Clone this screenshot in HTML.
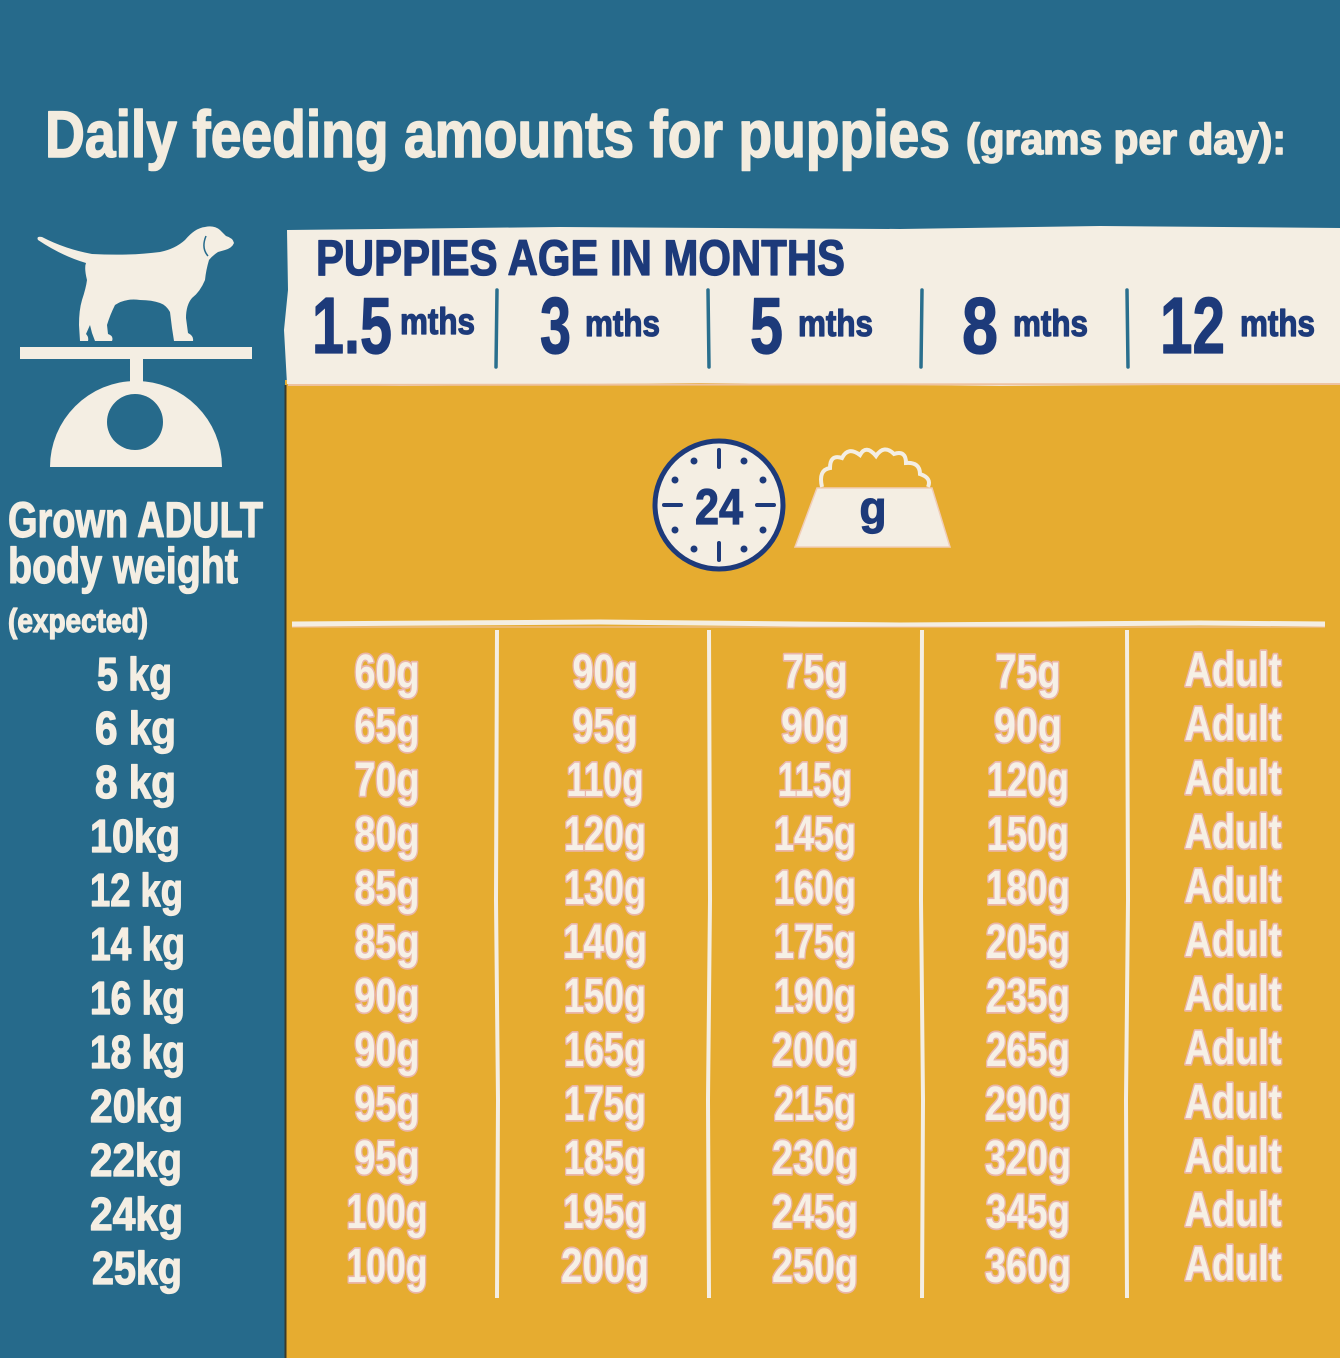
<!DOCTYPE html>
<html><head><meta charset="utf-8"><style>
html,body{margin:0;padding:0;background:#266a8b;}
svg{display:block;}
text{font-family:"Liberation Sans",sans-serif;font-weight:bold;}
</style></head><body>
<svg width="1340" height="1358" viewBox="0 0 1340 1358" xmlns="http://www.w3.org/2000/svg">
<rect x="0" y="0" width="1340" height="1358" fill="#266a8b"/>
<!-- title -->
<g fill="#f3ecdf" stroke="#f3ecdf" stroke-width="1.6" stroke-linejoin="round">
<text x="45" y="157" font-size="66" textLength="905" lengthAdjust="spacingAndGlyphs">Daily feeding amounts for puppies</text>
<text x="966" y="154" font-size="44" textLength="320" lengthAdjust="spacingAndGlyphs">(grams per day):</text>
</g>
<!-- yellow & cream panels -->
<rect x="285" y="380" width="1055" height="978" fill="#e6ac30"/>
<line x1="285.5" y1="385" x2="285.5" y2="1358" stroke="#3a3a2a" stroke-width="2"/>
<path d="M287 230 L560 227 L900 229 L1100 226 L1340 228 L1340 384 L1000 386 L700 383 L400 386 L287 384 L284 330 L288 290 Z" fill="#f4eee3"/>
<line x1="288" y1="385" x2="1340" y2="384" stroke="#eec2a0" stroke-width="2"/>
<!-- header text -->
<g fill="#1d3a7a" stroke="#1d3a7a" stroke-width="1.3" stroke-linejoin="round">
<text x="316" y="275" font-size="50" textLength="529" lengthAdjust="spacingAndGlyphs">PUPPIES AGE IN MONTHS</text>
<text x="312" y="353" font-size="80" textLength="80" lengthAdjust="spacingAndGlyphs">1.5</text>
<text x="400" y="334" font-size="37" textLength="75" lengthAdjust="spacingAndGlyphs">mths</text>
<text x="540" y="353" font-size="80" textLength="31" lengthAdjust="spacingAndGlyphs">3</text>
<text x="585" y="336" font-size="37" textLength="75" lengthAdjust="spacingAndGlyphs">mths</text>
<text x="750" y="353" font-size="80" textLength="33" lengthAdjust="spacingAndGlyphs">5</text>
<text x="798" y="336" font-size="37" textLength="75" lengthAdjust="spacingAndGlyphs">mths</text>
<text x="962" y="353" font-size="80" textLength="36" lengthAdjust="spacingAndGlyphs">8</text>
<text x="1013" y="336" font-size="37" textLength="75" lengthAdjust="spacingAndGlyphs">mths</text>
<text x="1160" y="353" font-size="80" textLength="65" lengthAdjust="spacingAndGlyphs">12</text>
<text x="1240" y="336" font-size="37" textLength="75" lengthAdjust="spacingAndGlyphs">mths</text>
</g>
<g stroke="#2a6f8e" stroke-width="3.5" stroke-linecap="round">
<line x1="497" y1="290" x2="496" y2="367"/>
<line x1="708" y1="290" x2="709" y2="367"/>
<line x1="922" y1="290" x2="921" y2="367"/>
<line x1="1127" y1="290" x2="1128" y2="367"/>
</g>
<!-- dog -->
<path fill="#f4eee3" d="M38 240 Q36 236 42 237 Q65 249 92 254 Q130 256 160 252 Q175 249 185 240 Q195 228 205 227 Q214 225 220 230 L226 236 Q233 238 234 243 Q232 248 225 250 L218 252 Q212 256 209 260 Q206 270 205 280 Q200 292 192 298 Q186 305 186 318 L188 333 Q194 336 193 341 L174 341 L172 328 L170 312 Q166 305 160 303 Q152 300 140 300 Q125 298 115 305 Q110 315 107 325 L108 334 Q114 336 112 341 L95 341 L92 333 L90 325 L86 334 Q89 337 88 341 L80 341 L79 325 Q79 310 82 300 Q86 288 87 280 Q84 268 86 263 Q62 256 38 240 Z"/>
<path d="M206 236 Q201 248 208 256" stroke="#266a8b" stroke-width="1.5" fill="none"/>
<!-- scale -->
<rect x="20" y="347" width="232" height="12" fill="#f4eee3"/>
<rect x="130" y="358" width="13" height="26" fill="#f4eee3"/>
<path d="M50 467 A86 86 0 0 1 222 467 Z" fill="#f4eee3"/>
<circle cx="135" cy="422" r="28" fill="#266a8b"/>
<!-- left labels -->
<g fill="#f4eee3" stroke="#f4eee3" stroke-width="1.3" stroke-linejoin="round">
<text x="8" y="537" font-size="50" textLength="255" lengthAdjust="spacingAndGlyphs">Grown ADULT</text>
<text x="8" y="583" font-size="50" textLength="230" lengthAdjust="spacingAndGlyphs">body weight</text>
<text x="8" y="632" font-size="33" textLength="140" lengthAdjust="spacingAndGlyphs">(expected)</text>
</g>
<g fill="#f4eee3" stroke="#f4eee3" stroke-width="1.3" stroke-linejoin="round" font-size="46">
<text x="97" y="690" textLength="75" lengthAdjust="spacingAndGlyphs">5 kg</text>
<text x="95" y="744" textLength="81" lengthAdjust="spacingAndGlyphs">6 kg</text>
<text x="95" y="798" textLength="81" lengthAdjust="spacingAndGlyphs">8 kg</text>
<text x="90" y="852" textLength="90" lengthAdjust="spacingAndGlyphs">10kg</text>
<text x="90" y="906" textLength="93" lengthAdjust="spacingAndGlyphs">12 kg</text>
<text x="90" y="960" textLength="95" lengthAdjust="spacingAndGlyphs">14 kg</text>
<text x="90" y="1014" textLength="95" lengthAdjust="spacingAndGlyphs">16 kg</text>
<text x="90" y="1068" textLength="95" lengthAdjust="spacingAndGlyphs">18 kg</text>
<text x="90" y="1122" textLength="93" lengthAdjust="spacingAndGlyphs">20kg</text>
<text x="90" y="1176" textLength="92" lengthAdjust="spacingAndGlyphs">22kg</text>
<text x="90" y="1230" textLength="93" lengthAdjust="spacingAndGlyphs">24kg</text>
<text x="92" y="1284" textLength="90" lengthAdjust="spacingAndGlyphs">25kg</text>
</g>
<!-- clock -->
<circle cx="719" cy="505" r="64" fill="#f4eee3" stroke="#1d3a7a" stroke-width="5"/>
<g stroke="#1d3a7a" stroke-width="4" stroke-linecap="round">
<line x1="719" y1="450" x2="719" y2="467"/>
<line x1="719" y1="543" x2="719" y2="560"/>
<line x1="664" y1="505" x2="681" y2="505"/>
<line x1="757" y1="505" x2="774" y2="505"/>
</g>
<g fill="#1d3a7a">
<circle cx="694" cy="461" r="3.5"/><circle cx="744" cy="461" r="3.5"/>
<circle cx="675" cy="480" r="3.5"/><circle cx="763" cy="480" r="3.5"/>
<circle cx="675" cy="530" r="3.5"/><circle cx="763" cy="530" r="3.5"/>
<circle cx="694" cy="549" r="3.5"/><circle cx="744" cy="549" r="3.5"/>
<text x="719" y="524" font-size="50" text-anchor="middle" stroke="#1d3a7a" stroke-width="1.2" textLength="48" lengthAdjust="spacingAndGlyphs">24</text>
</g>
<!-- bowl -->
<path d="M822 487 Q818 470 830 468 Q830 454 842 458 Q848 446 860 455 Q866 444 876 456 Q884 444 894 454 Q906 450 906 463 Q920 462 920 474 Q932 478 928 487" fill="none" stroke="#f4eee3" stroke-width="4"/>
<path d="M817 488 L932 488 L950 547 L795 547 Z" fill="#f4eee3" stroke="#f0cdb8" stroke-width="1.5"/>
<text x="873" y="524" font-size="46" fill="#1d3a7a" stroke="#1d3a7a" stroke-width="1.2" text-anchor="middle" textLength="27" lengthAdjust="spacingAndGlyphs">g</text>
<!-- table lines -->
<path d="M292 624 L600 622 L900 625 L1200 623 L1325 624" stroke="#f4eee3" stroke-width="5" fill="none"/>
<path d="M292 627 L1325 627" stroke="#f0c4b0" stroke-width="1" fill="none"/>
<g stroke="#f4eee3" stroke-width="4">
<path d="M497 630 L496 900 L498 1100 L497 1298"/>
<path d="M709 630 L710 900 L708 1100 L709 1298"/>
<path d="M922 630 L921 900 L923 1100 L922 1298"/>
<path d="M1127 630 L1128 900 L1126 1100 L1127 1298"/>
</g>
<!-- values -->
<g fill="#f6f0e6" stroke="#eab6aa" stroke-width="3.5" stroke-linejoin="round" paint-order="stroke" font-size="48" text-anchor="middle">
<text x="387" y="688" textLength="65" lengthAdjust="spacingAndGlyphs">60g</text>
<text x="387" y="742" textLength="65" lengthAdjust="spacingAndGlyphs">65g</text>
<text x="387" y="796" textLength="65" lengthAdjust="spacingAndGlyphs">70g</text>
<text x="387" y="850" textLength="65" lengthAdjust="spacingAndGlyphs">80g</text>
<text x="387" y="904" textLength="65" lengthAdjust="spacingAndGlyphs">85g</text>
<text x="387" y="958" textLength="65" lengthAdjust="spacingAndGlyphs">85g</text>
<text x="387" y="1012" textLength="65" lengthAdjust="spacingAndGlyphs">90g</text>
<text x="387" y="1066" textLength="65" lengthAdjust="spacingAndGlyphs">90g</text>
<text x="387" y="1120" textLength="65" lengthAdjust="spacingAndGlyphs">95g</text>
<text x="387" y="1174" textLength="65" lengthAdjust="spacingAndGlyphs">95g</text>
<text x="387" y="1228" textLength="81" lengthAdjust="spacingAndGlyphs">100g</text>
<text x="387" y="1282" textLength="81" lengthAdjust="spacingAndGlyphs">100g</text>

<text x="605" y="688" textLength="65" lengthAdjust="spacingAndGlyphs">90g</text>
<text x="605" y="742" textLength="65" lengthAdjust="spacingAndGlyphs">95g</text>
<text x="605" y="796" textLength="77" lengthAdjust="spacingAndGlyphs">110g</text>
<text x="605" y="850" textLength="82" lengthAdjust="spacingAndGlyphs">120g</text>
<text x="605" y="904" textLength="82" lengthAdjust="spacingAndGlyphs">130g</text>
<text x="605" y="958" textLength="84" lengthAdjust="spacingAndGlyphs">140g</text>
<text x="605" y="1012" textLength="82" lengthAdjust="spacingAndGlyphs">150g</text>
<text x="605" y="1066" textLength="82" lengthAdjust="spacingAndGlyphs">165g</text>
<text x="605" y="1120" textLength="82" lengthAdjust="spacingAndGlyphs">175g</text>
<text x="605" y="1174" textLength="82" lengthAdjust="spacingAndGlyphs">185g</text>
<text x="605" y="1228" textLength="84" lengthAdjust="spacingAndGlyphs">195g</text>
<text x="605" y="1282" textLength="88" lengthAdjust="spacingAndGlyphs">200g</text>

<text x="815" y="688" textLength="65" lengthAdjust="spacingAndGlyphs">75g</text>
<text x="815" y="742" textLength="68" lengthAdjust="spacingAndGlyphs">90g</text>
<text x="815" y="796" textLength="74" lengthAdjust="spacingAndGlyphs">115g</text>
<text x="815" y="850" textLength="82" lengthAdjust="spacingAndGlyphs">145g</text>
<text x="815" y="904" textLength="82" lengthAdjust="spacingAndGlyphs">160g</text>
<text x="815" y="958" textLength="82" lengthAdjust="spacingAndGlyphs">175g</text>
<text x="815" y="1012" textLength="82" lengthAdjust="spacingAndGlyphs">190g</text>
<text x="815" y="1066" textLength="86" lengthAdjust="spacingAndGlyphs">200g</text>
<text x="815" y="1120" textLength="82" lengthAdjust="spacingAndGlyphs">215g</text>
<text x="815" y="1174" textLength="86" lengthAdjust="spacingAndGlyphs">230g</text>
<text x="815" y="1228" textLength="86" lengthAdjust="spacingAndGlyphs">245g</text>
<text x="815" y="1282" textLength="86" lengthAdjust="spacingAndGlyphs">250g</text>

<text x="1028" y="688" textLength="65" lengthAdjust="spacingAndGlyphs">75g</text>
<text x="1028" y="742" textLength="68" lengthAdjust="spacingAndGlyphs">90g</text>
<text x="1028" y="796" textLength="82" lengthAdjust="spacingAndGlyphs">120g</text>
<text x="1028" y="850" textLength="82" lengthAdjust="spacingAndGlyphs">150g</text>
<text x="1028" y="904" textLength="84" lengthAdjust="spacingAndGlyphs">180g</text>
<text x="1028" y="958" textLength="84" lengthAdjust="spacingAndGlyphs">205g</text>
<text x="1028" y="1012" textLength="84" lengthAdjust="spacingAndGlyphs">235g</text>
<text x="1028" y="1066" textLength="84" lengthAdjust="spacingAndGlyphs">265g</text>
<text x="1028" y="1120" textLength="86" lengthAdjust="spacingAndGlyphs">290g</text>
<text x="1028" y="1174" textLength="86" lengthAdjust="spacingAndGlyphs">320g</text>
<text x="1028" y="1228" textLength="84" lengthAdjust="spacingAndGlyphs">345g</text>
<text x="1028" y="1282" textLength="86" lengthAdjust="spacingAndGlyphs">360g</text>

<text x="1233" y="686" textLength="97" lengthAdjust="spacingAndGlyphs">Adult</text>
<text x="1233" y="740" textLength="97" lengthAdjust="spacingAndGlyphs">Adult</text>
<text x="1233" y="794" textLength="97" lengthAdjust="spacingAndGlyphs">Adult</text>
<text x="1233" y="848" textLength="97" lengthAdjust="spacingAndGlyphs">Adult</text>
<text x="1233" y="902" textLength="97" lengthAdjust="spacingAndGlyphs">Adult</text>
<text x="1233" y="956" textLength="97" lengthAdjust="spacingAndGlyphs">Adult</text>
<text x="1233" y="1010" textLength="97" lengthAdjust="spacingAndGlyphs">Adult</text>
<text x="1233" y="1064" textLength="97" lengthAdjust="spacingAndGlyphs">Adult</text>
<text x="1233" y="1118" textLength="97" lengthAdjust="spacingAndGlyphs">Adult</text>
<text x="1233" y="1172" textLength="97" lengthAdjust="spacingAndGlyphs">Adult</text>
<text x="1233" y="1226" textLength="97" lengthAdjust="spacingAndGlyphs">Adult</text>
<text x="1233" y="1280" textLength="97" lengthAdjust="spacingAndGlyphs">Adult</text>
</g>
</svg>
</body></html>
